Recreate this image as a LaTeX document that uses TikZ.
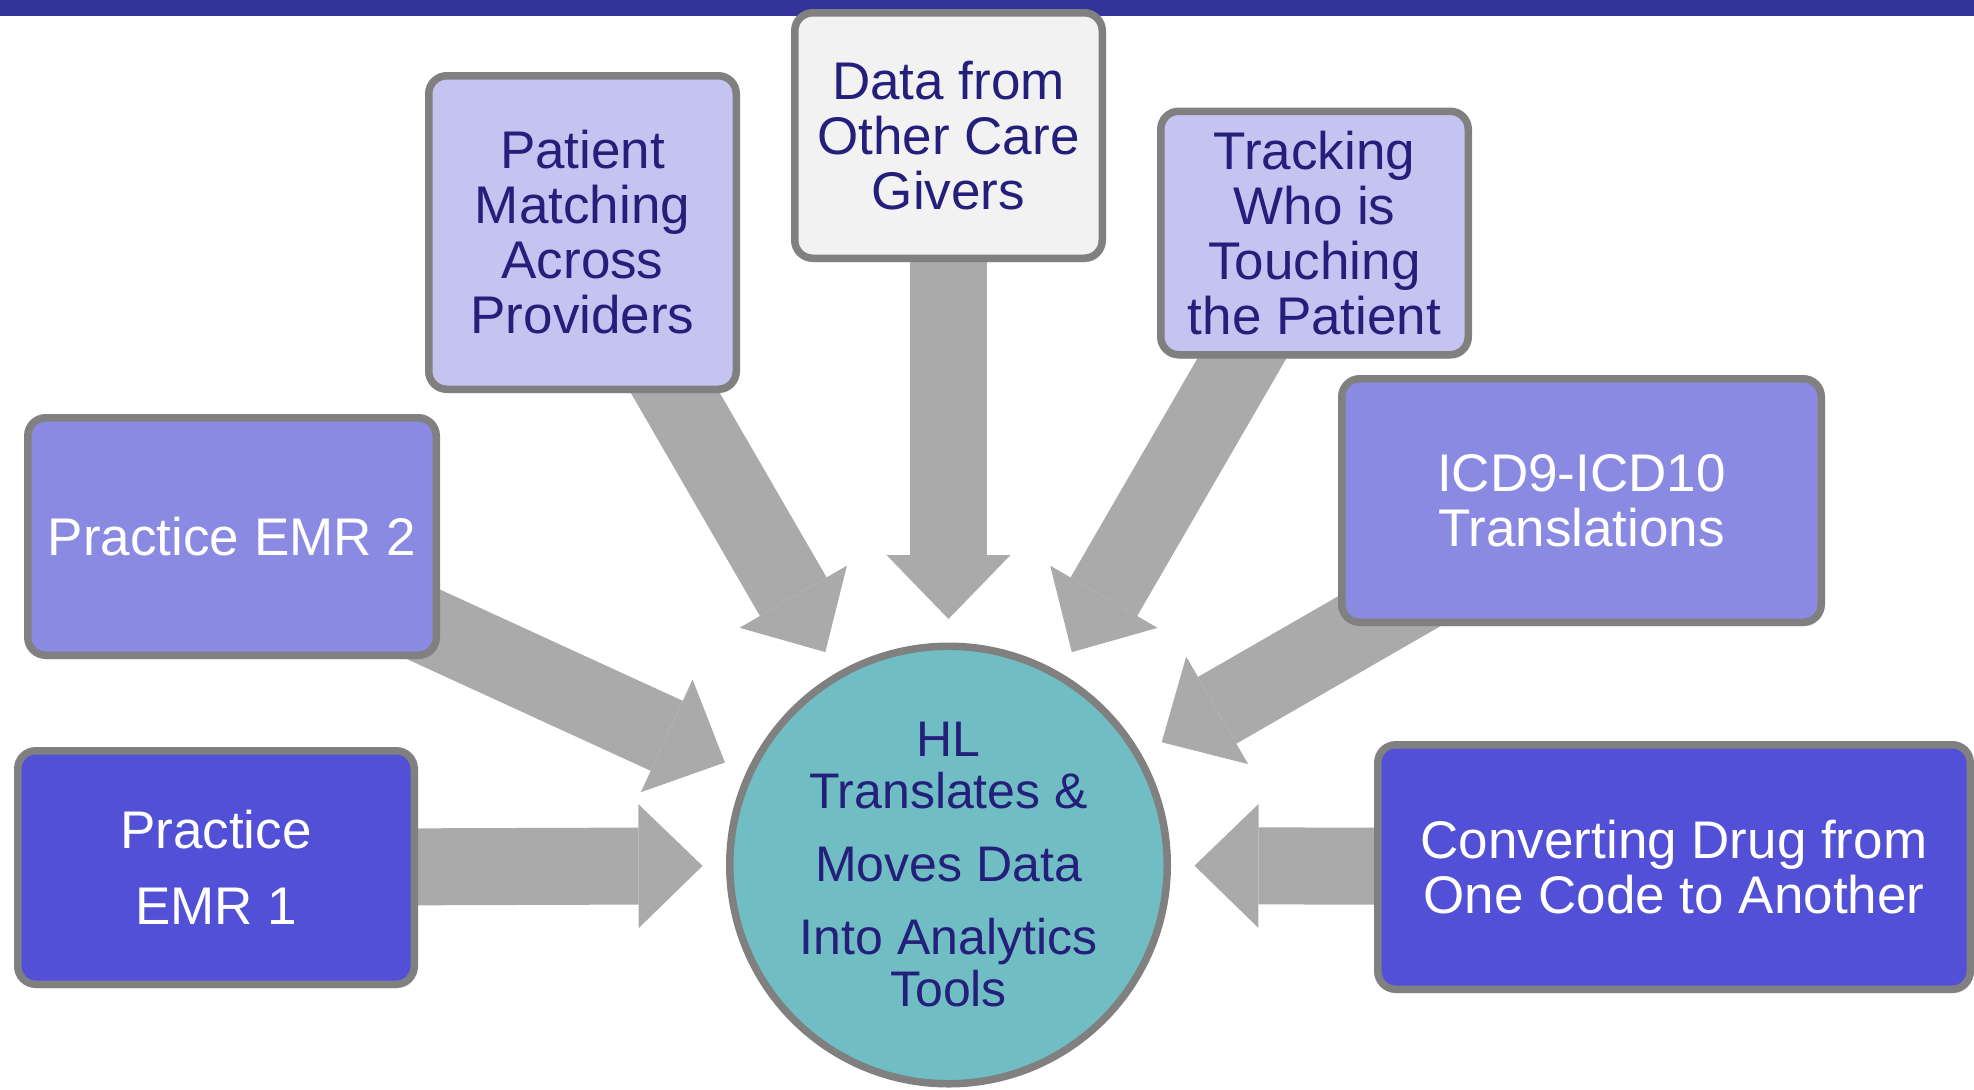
\documentclass[tikz,border=0pt]{standalone}
\usepackage{fontspec}
\setmainfont{Liberation Sans}
\usetikzlibrary{arrows.meta,shadows,backgrounds}

\definecolor{barblue}{RGB}{51,51,153}
\definecolor{lavender}{RGB}{197,195,240}
\definecolor{palegray}{RGB}{242,242,242}
\definecolor{midviolet}{RGB}{139,138,227}
\definecolor{deepviolet}{RGB}{82,80,214}
\definecolor{hubteal}{RGB}{113,189,196}
\definecolor{arrowgray}{RGB}{170,170,170}
\definecolor{edgegray}{RGB}{128,128,128}
\definecolor{navytext}{RGB}{35,31,122}

\begin{document}
\begin{tikzpicture}[x=0.5pt, y=-0.5pt,
    box/.style={draw=edgegray, line width=3.75pt, rounded corners=9pt, inner sep=0pt, align=center,
        font=\fontsize{26.5}{27.5}\selectfont,
        drop shadow={opacity=0.2, shadow xshift=1pt, shadow yshift=-2pt}},
    feed/.style={draw=arrowgray, line width=38.5pt, shorten >=123pt,
        -{Triangle[length=32pt, width=62pt, line width'=0pt]}}]

        \useasboundingbox (0, 0) rectangle (1974, 1089);
        \fill[barblue] (0, 0) rectangle (1974, 16);

        \node[box, fill=lavender, text=navytext, minimum width=153.75pt, minimum height=156.75pt] (matching) at (582.5, 232.5) {Patient\\Matching\\Across\\Providers};
        \node[box, fill=palegray, text=navytext, minimum width=153.75pt, minimum height=122.75pt] (others) at (948.5, 135.5) {Data from\\Other Care\\Givers};
        \node[box, fill=lavender, text=navytext, minimum width=153.75pt, minimum height=121.75pt] (tracking) at (1314.5, 233) {Tracking\\Who is\\Touching\\the Patient};
        \node[box, fill=midviolet, text=white, minimum width=204.25pt, minimum height=118.75pt] (emrtwo) at (232, 536.5) {Practice EMR 2};
        \node[box, fill=deepviolet, text=white, minimum width=198.25pt, minimum height=116.75pt] (emrone) at (216, 867.5) {Practice\\[10.5pt]EMR 1};
        \node[box, fill=midviolet, text=white, minimum width=239.75pt, minimum height=121.75pt] (icd) at (1581.5, 500.5) {ICD9-ICD10\\Translations};
        \node[box, fill=deepviolet, text=white, minimum width=296.25pt, minimum height=122.25pt] (drugs) at (1674, 867) {Converting Drug from\\One Code to Another};

        \node[circle, draw=edgegray, line width=3.75pt, fill=hubteal, text=navytext, inner sep=0pt, minimum size=218.75pt, align=center,
            font=\fontsize{25}{26}\selectfont] (hub) at (948.5, 865) {HL\\Translates \&\\[10.5pt]Moves Data\\[10.5pt]Into Analytics\\Tools};

        \begin{scope}[on background layer]
            \foreach \src in {emrone, emrtwo, matching, others, tracking, icd, drugs}
                \draw[feed] (\src.center) -- (hub.center);
        \end{scope}
    \end{tikzpicture}
\end{document}
